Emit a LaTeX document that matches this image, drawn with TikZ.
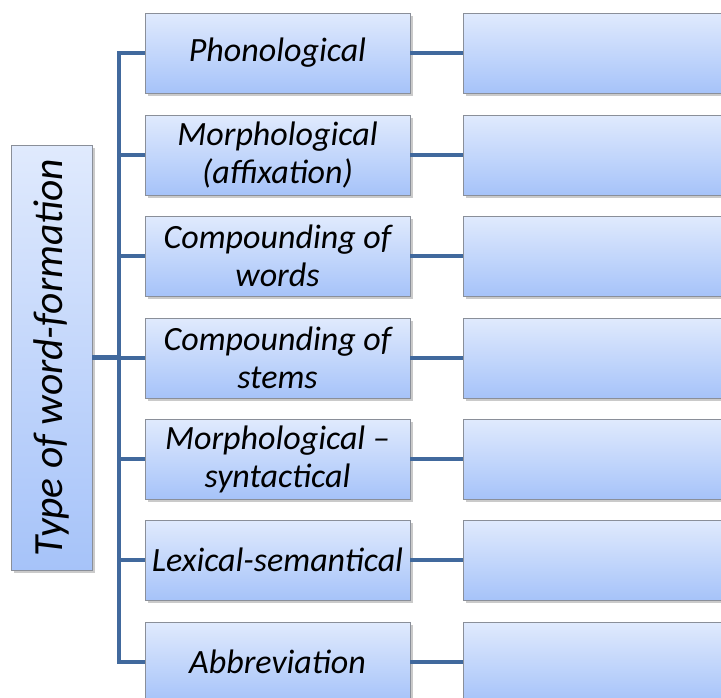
\documentclass[tikz,border=0pt]{standalone}
\usepackage{fontspec}
\setmainfont{Carlito}
\usetikzlibrary{shadows}
\definecolor{boxtop}{HTML}{E0EAFD}
\definecolor{boxbot}{HTML}{A6C3F9}
\definecolor{linkblue}{HTML}{41699D}
\definecolor{boxedge}{HTML}{8A8F99}
\begin{document}
\begin{tikzpicture}[x=1pt,y=-1pt,
  card/.style={draw=boxedge, line width=0.9pt, top color=boxtop, bottom color=boxbot,
    drop shadow={shadow xshift=2.5pt, shadow yshift=-3pt, opacity=0.35, fill=black!60},
    inner sep=0pt, align=center, font=\itshape\fontsize{34}{38}\selectfont},
  typebox/.style={card, minimum width=265pt, minimum height=80pt},
  emptybox/.style={card, minimum width=300pt, minimum height=80pt},
  conn/.style={draw=linkblue, line width=4.8pt}]
\useasboundingbox (0,0) rectangle (721,697);
\clip (0,0) rectangle (721,697);

% root box with rotated caption
\node[card, minimum width=425pt, minimum height=81pt, rotate=90,
      font=\itshape\fontsize{41.5}{48}\selectfont] (root) at (51.5,357.5) {Type of word-formation};

% types of word-formation
\node[typebox] (m1) at (277.5,53)  {Phonological};
\node[typebox] (m2) at (277.5,155) {Morphological\\(affixation)};
\node[typebox] (m3) at (277.5,256) {Compounding of\\words};
\node[typebox] (m4) at (277.5,358) {Compounding of\\stems};
\node[typebox] (m5) at (277.5,459) {Morphological –\\syntactical};
\node[typebox] (m6) at (277.5,560) {Lexical-semantical};
\node[typebox] (m7) at (277.5,662) {Abbreviation};

% empty answer boxes
\foreach \i/\y in {1/53,2/155,3/256,4/358,5/459,6/560,7/662}
  \node[emptybox] (r\i) at (613,\y) {};

% connectors
\coordinate (trunk) at (119,357.5);
\draw[conn] (root.south) -- (root.south -| trunk);
\draw[conn] (m1.west) -| (trunk) |- (m7.west);
\foreach \i in {2,...,6}
  \draw[conn] (m\i.west) -- (m\i.west -| trunk);
\foreach \i in {1,...,7}
  \draw[conn] (m\i.east) -- (r\i.west);
\end{tikzpicture}
\end{document}
